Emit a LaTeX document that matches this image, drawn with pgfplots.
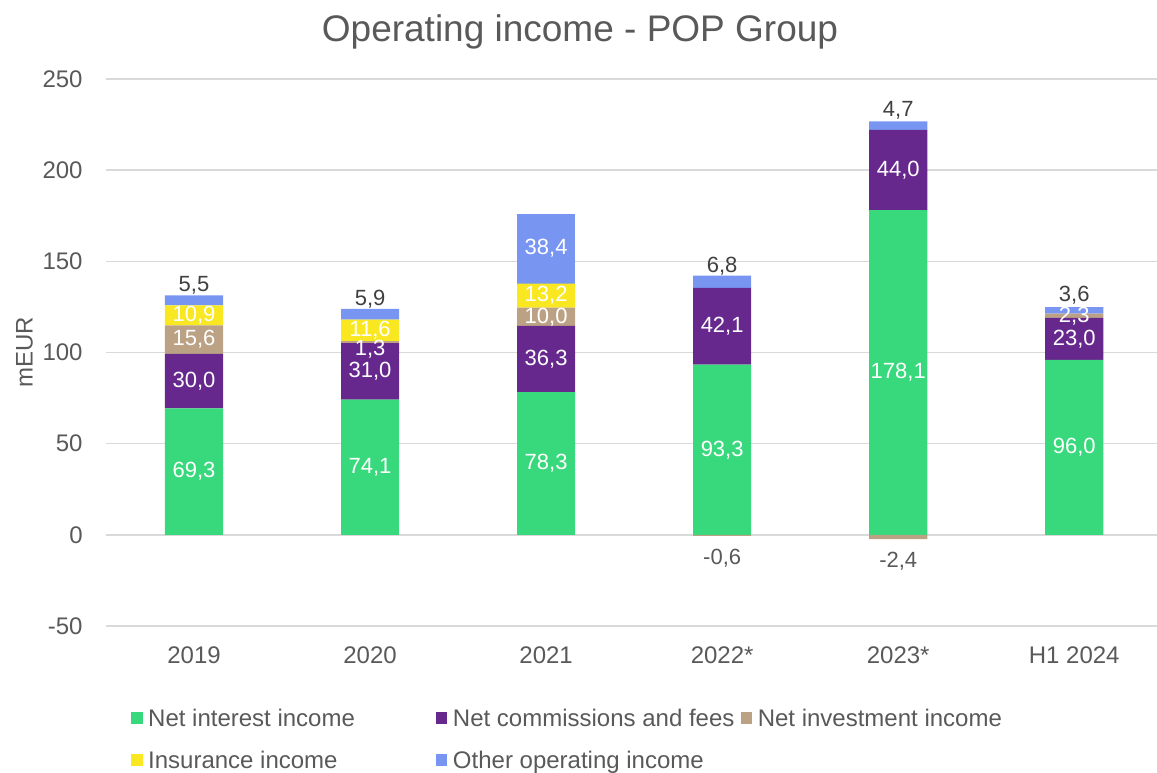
\documentclass[border=0pt]{standalone}
\usepackage{fontspec}
\setmainfont{Liberation Sans}
\usepackage{pgfplots}
\pgfplotsset{compat=1.18}
\definecolor{cNII}{HTML}{38D97C}
\definecolor{cNCF}{HTML}{67288E}
\definecolor{cINV}{HTML}{BCA285}
\definecolor{cINS}{HTML}{F9E821}
\definecolor{cOTH}{HTML}{7896F1}
\definecolor{gridc}{HTML}{D9D9D9}
\definecolor{tickc}{HTML}{595959}
\definecolor{darkc}{HTML}{404040}
\newcommand{\lbl}{\ifdim\rawy pt=0pt\else\pgfmathprintnumber[fixed,fixed zerofill,precision=1,use comma,assume math mode=true]{\rawy}\fi}
\begin{document}
\begin{tikzpicture}
\useasboundingbox (0,0) rectangle (578.5pt,386pt);
\pgfplotsset{
  base/.style={
    scale only axis, width=525.5pt, height=273.5pt,
    xmin=-0.5, xmax=5.47, ymin=-50, ymax=250,
    at={(53pt,73pt)}, anchor=south west,
    axis line style={draw=none}, major tick length=0pt,
    bar width=0.33,
    /pgf/number format/assume math mode=true,
  },
  inlbl/.style={
    nodes near coords={\lbl},
    visualization depends on={rawy\as\rawy},
    every node near coord/.append style={anchor=center, text=white, font=\fontsize{11}{13}\selectfont, inner sep=0pt},
  },
  toplbl/.style={
    nodes near coords={\lbl},
    visualization depends on={rawy\as\rawy},
    every node near coord/.append style={anchor=south, text=darkc, font=\fontsize{11}{13}\selectfont, inner sep=0pt, yshift=3pt},
  },
}
\begin{axis}[base, ybar stacked,
  ytick={-50,0,50,100,150,200,250},
  ymajorgrids, grid style={color=gridc, line width=0.75pt},
  xtick={0,1,2,3,4,5}, xticklabels={2019,2020,2021,2022*,2023*,H1 2024},
  ticklabel style={font=\fontsize{12}{14}\selectfont, text=tickc},
  yticklabel style={anchor=east, inner sep=0pt, xshift=-11.5pt},
  xticklabel style={anchor=north, inner sep=0pt, yshift=-10pt},
  title={Operating income - POP Group},
  every axis title/.style={at={(axis description cs:0.451,1)}, anchor=base, yshift=18.6pt, font=\fontsize{18.5}{22}\selectfont, text=tickc},
  ylabel={mEUR},
  every axis y label/.style={at={(axis description cs:-0.0775,0.5)}, rotate=90, anchor=center, font=\fontsize{12}{14}\selectfont, text=tickc},
  legend columns=3,
  legend image code/.code={\fill[#1] (0pt,-2.9pt) rectangle (5.8pt,2.9pt); \path (0pt,0pt) (8.6pt,0pt);},
  legend style={draw=none, fill=none, inner sep=0pt, at={(axis description cs:0.0234,-0.1508)}, anchor=north west,
    nodes={inner sep=0pt, text height=9pt, text depth=0pt, text=tickc, font=\fontsize{12}{14}\selectfont},
    cells={anchor=west}, column sep=0pt, row sep=12pt},
]
\addplot[fill=cNII, draw=none, inlbl] coordinates {(0,69.3) (1,74.1) (2,78.3) (3,93.3) (4,178.1) (5,96.0)};
\addlegendentry{\makebox[143.8pt][l]{Net interest income}}
\addplot[fill=cNCF, draw=none, inlbl] coordinates {(0,30.0) (1,31.0) (2,36.3) (3,42.1) (4,44.0) (5,23.0)};
\addlegendentry{\makebox[143.8pt][l]{Net commissions and fees}}
\addplot[fill=cINV, draw=none, inlbl] coordinates {(0,15.6) (1,0) (2,10.0) (3,0) (4,0) (5,2.3)};
\addlegendentry{\makebox[143.8pt][l]{Net investment income}}
\addplot[fill=cINV, draw=none, inlbl, every node near coord/.append style={yshift=-3.5pt}, forget plot] coordinates {(0,0) (1,1.3) (2,0) (3,0) (4,0) (5,0)};
\addplot[fill=cINS, draw=none, inlbl] coordinates {(0,10.9) (1,11.6) (2,13.2) (3,0) (4,0) (5,0)};
\addlegendentry{\makebox[143.8pt][l]{Insurance income}}
\addplot[fill=cOTH, draw=none, toplbl] coordinates {(0,5.5) (1,5.9) (2,0) (3,6.8) (4,4.7) (5,3.6)};
\addlegendentry{\makebox[143.8pt][l]{Other operating income}}
\addplot[fill=cOTH, draw=none, inlbl, forget plot] coordinates {(0,0) (1,0) (2,38.4) (3,0) (4,0) (5,0)};
\end{axis}
\begin{axis}[base, ybar, hide axis]
\addplot[fill=cINV, draw=none, nodes near coords={\lbl}, visualization depends on={rawy\as\rawy},
  every node near coord/.append style={anchor=north, text=tickc, font=\fontsize{11}{13}\selectfont, inner sep=0pt, yshift=-6.5pt}]
  coordinates {(3,-0.6) (4,-2.4)};
\end{axis}
\end{tikzpicture}
\end{document}
